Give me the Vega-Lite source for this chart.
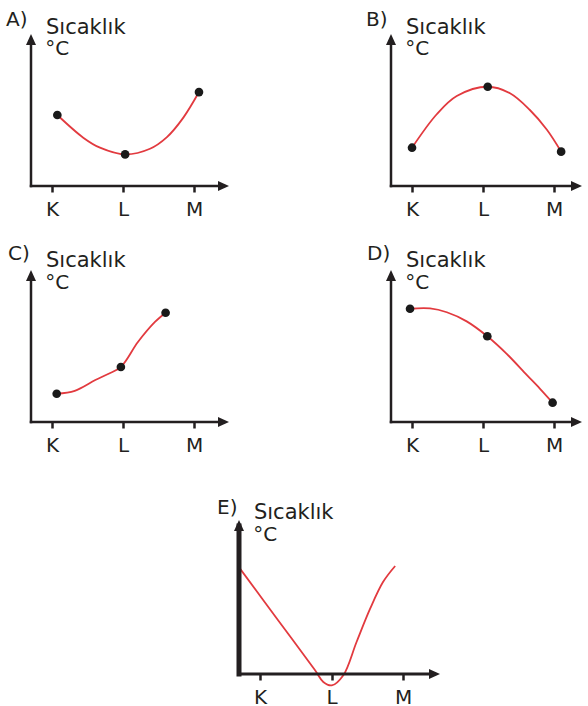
{
  "$schema": "https://vega.github.io/schema/vega-lite/v6.json",
  "background": "white",
  "padding": {"left": 6, "top": 9, "right": 0, "bottom": 0},
  "spacing": 24,
  "config": {
    "view": {"stroke": null},
    "axis": {"domain": false, "grid": false, "ticks": true, "tickSize": 6, "tickWidth": 2.5, "tickColor": "#231f20", "labelFont": "DejaVu Sans", "labelFontSize": 20, "labelColor": "#231f20", "labelPadding": 7, "labelFlush": false, "labelOverlap": false},
    "text": {"font": "DejaVu Sans", "fontSize": 20, "align": "left", "baseline": "alphabetic", "color": "#231f20"}
  },
  "datasets": {
    "curves": [
      {"panel": "A", "x": 1.075, "y": 4.67, "dot": true},
      {"panel": "A", "x": 1.44, "y": 3.18, "dot": false},
      {"panel": "A", "x": 1.676, "y": 2.52, "dot": false},
      {"panel": "A", "x": 2.03, "y": 2.08, "dot": true},
      {"panel": "A", "x": 2.38, "y": 2.45, "dot": false},
      {"panel": "A", "x": 2.615, "y": 3.2, "dot": false},
      {"panel": "A", "x": 2.85, "y": 4.5, "dot": false},
      {"panel": "A", "x": 3.07, "y": 6.18, "dot": true},
      {"panel": "B", "x": 1.0, "y": 2.52, "dot": true},
      {"panel": "B", "x": 1.348, "y": 4.72, "dot": false},
      {"panel": "B", "x": 1.63, "y": 5.92, "dot": false},
      {"panel": "B", "x": 2.066, "y": 6.53, "dot": true},
      {"panel": "B", "x": 2.38, "y": 6.1, "dot": false},
      {"panel": "B", "x": 2.66, "y": 5.0, "dot": false},
      {"panel": "B", "x": 2.9, "y": 3.7, "dot": false},
      {"panel": "B", "x": 3.1, "y": 2.26, "dot": true},
      {"panel": "C", "x": 1.066, "y": 1.86, "dot": true},
      {"panel": "C", "x": 1.32, "y": 2.05, "dot": false},
      {"panel": "C", "x": 1.61, "y": 2.76, "dot": false},
      {"panel": "C", "x": 1.79, "y": 3.16, "dot": false},
      {"panel": "C", "x": 1.97, "y": 3.62, "dot": true},
      {"panel": "C", "x": 2.21, "y": 5.26, "dot": false},
      {"panel": "C", "x": 2.45, "y": 6.58, "dot": false},
      {"panel": "C", "x": 2.6, "y": 7.19, "dot": true},
      {"panel": "D", "x": 0.972, "y": 7.45, "dot": true},
      {"panel": "D", "x": 1.254, "y": 7.47, "dot": false},
      {"panel": "D", "x": 1.49, "y": 7.22, "dot": false},
      {"panel": "D", "x": 1.77, "y": 6.62, "dot": false},
      {"panel": "D", "x": 2.06, "y": 5.64, "dot": true},
      {"panel": "D", "x": 2.33, "y": 4.5, "dot": false},
      {"panel": "D", "x": 2.615, "y": 3.1, "dot": false},
      {"panel": "D", "x": 2.8, "y": 2.2, "dot": false},
      {"panel": "D", "x": 2.98, "y": 1.27, "dot": true},
      {"panel": "E", "x": 0.72, "y": 6.84, "dot": false},
      {"panel": "E", "x": 1.25, "y": 3.51, "dot": false},
      {"panel": "E", "x": 1.77, "y": 0.24, "dot": false},
      {"panel": "E", "x": 1.885, "y": -0.52, "dot": false},
      {"panel": "E", "x": 2.003, "y": -0.74, "dot": false},
      {"panel": "E", "x": 2.165, "y": -0.08, "dot": false},
      {"panel": "E", "x": 2.35, "y": 2.08, "dot": false},
      {"panel": "E", "x": 2.54, "y": 4.24, "dot": false},
      {"panel": "E", "x": 2.72, "y": 5.97, "dot": false},
      {"panel": "E", "x": 2.89, "y": 7.01, "dot": false}
    ]
  },
  "vconcat": [
    {
      "bounds": "flush",
      "spacing": 162,
      "hconcat": [
        {
          "width": 198, "height": 152,
          "resolve": {"axis": {"x": "independent", "y": "independent"}},
          "layer": [
            {"data": {"name": "curves"}, "transform": [{"filter": "datum.panel == 'A'"}],
             "mark": {"type": "line", "color": "#e23a3f", "strokeWidth": 1.8, "interpolate": "catmull-rom"},
             "encoding": {
               "x": {"field": "x", "type": "quantitative", "title": null, "scale": {"domain": [0.704, 3.493], "nice": false, "zero": false}, "axis": {"values": [1, 2, 3], "labelExpr": "datum.value == 1 ? 'K' : datum.value == 2 ? 'L' : 'M'"}},
               "y": {"field": "y", "type": "quantitative", "scale": {"domain": [0, 10], "nice": false, "zero": false}, "axis": null}}},
            {"data": {"values": [{}]}, "mark": {"type": "rule", "color": "#231f20", "strokeWidth": 2.5, "strokeCap": "square"},
             "encoding": {"x": {"datum": 0.704, "type": "quantitative", "axis": null}, "x2": {"datum": 3.41}, "y": {"datum": 0, "type": "quantitative", "axis": null}}},
            {"data": {"values": [{}]}, "mark": {"type": "rule", "color": "#231f20", "strokeWidth": 2.5, "strokeCap": "square"},
             "encoding": {"x": {"datum": 0.704, "type": "quantitative", "axis": null}, "y": {"datum": 0, "type": "quantitative", "axis": null}, "y2": {"datum": 9.6}}},
            {"data": {"values": [{}]}, "mark": {"type": "point", "shape": "M0,0L-2.2,-1L-2.2,1Z", "filled": true, "size": 100, "color": "#231f20", "opacity": 1, "strokeWidth": 0},
             "encoding": {"x": {"datum": 3.493, "type": "quantitative", "axis": null}, "y": {"datum": 0, "type": "quantitative", "axis": null}}},
            {"data": {"values": [{}]}, "mark": {"type": "point", "shape": "M0,0L-1,2.2L1,2.2Z", "filled": true, "size": 100, "color": "#231f20", "opacity": 1, "strokeWidth": 0},
             "encoding": {"x": {"datum": 0.704, "type": "quantitative", "axis": null}, "y": {"datum": 10, "type": "quantitative", "axis": null}}},
            {"data": {"name": "curves"}, "transform": [{"filter": "datum.panel == 'A' && datum.dot"}],
             "mark": {"type": "point", "filled": true, "size": 75, "color": "#1a1a1a", "opacity": 1},
             "encoding": {"x": {"field": "x", "type": "quantitative", "axis": null}, "y": {"field": "y", "type": "quantitative", "axis": null}}},
            {"data": {"values": [{}]}, "mark": {"type": "text", "text": "A)"},
             "encoding": {"x": {"datum": 0.352, "type": "quantitative", "axis": null}, "y": {"datum": 10.53, "type": "quantitative", "axis": null}}},
            {"data": {"values": [{}]}, "mark": {"type": "text", "text": "Sıcaklık", "fontSize": 21},
             "encoding": {"x": {"datum": 0.915, "type": "quantitative", "axis": null}, "y": {"datum": 10.0, "type": "quantitative", "axis": null}}},
            {"data": {"values": [{}]}, "mark": {"type": "text", "text": "°C"},
             "encoding": {"x": {"datum": 0.905, "type": "quantitative", "axis": null}, "y": {"datum": 8.62, "type": "quantitative", "axis": null}}}
          ]
        },
        {
          "width": 191, "height": 152,
          "resolve": {"axis": {"x": "independent", "y": "independent"}},
          "layer": [
            {"data": {"name": "curves"}, "transform": [{"filter": "datum.panel == 'B'"}],
             "mark": {"type": "line", "color": "#e23a3f", "strokeWidth": 1.8, "interpolate": "catmull-rom"},
             "encoding": {
               "x": {"field": "x", "type": "quantitative", "title": null, "scale": {"domain": [0.704, 3.394], "nice": false, "zero": false}, "axis": {"values": [1, 2, 3], "labelExpr": "datum.value == 1 ? 'K' : datum.value == 2 ? 'L' : 'M'"}},
               "y": {"field": "y", "type": "quantitative", "scale": {"domain": [0, 10], "nice": false, "zero": false}, "axis": null}}},
            {"data": {"values": [{}]}, "mark": {"type": "rule", "color": "#231f20", "strokeWidth": 2.5, "strokeCap": "square"},
             "encoding": {"x": {"datum": 0.704, "type": "quantitative", "axis": null}, "x2": {"datum": 3.31}, "y": {"datum": 0, "type": "quantitative", "axis": null}}},
            {"data": {"values": [{}]}, "mark": {"type": "rule", "color": "#231f20", "strokeWidth": 2.5, "strokeCap": "square"},
             "encoding": {"x": {"datum": 0.704, "type": "quantitative", "axis": null}, "y": {"datum": 0, "type": "quantitative", "axis": null}, "y2": {"datum": 9.6}}},
            {"data": {"values": [{}]}, "mark": {"type": "point", "shape": "M0,0L-2.2,-1L-2.2,1Z", "filled": true, "size": 100, "color": "#231f20", "opacity": 1, "strokeWidth": 0},
             "encoding": {"x": {"datum": 3.394, "type": "quantitative", "axis": null}, "y": {"datum": 0, "type": "quantitative", "axis": null}}},
            {"data": {"values": [{}]}, "mark": {"type": "point", "shape": "M0,0L-1,2.2L1,2.2Z", "filled": true, "size": 100, "color": "#231f20", "opacity": 1, "strokeWidth": 0},
             "encoding": {"x": {"datum": 0.704, "type": "quantitative", "axis": null}, "y": {"datum": 10, "type": "quantitative", "axis": null}}},
            {"data": {"name": "curves"}, "transform": [{"filter": "datum.panel == 'B' && datum.dot"}],
             "mark": {"type": "point", "filled": true, "size": 75, "color": "#1a1a1a", "opacity": 1},
             "encoding": {"x": {"field": "x", "type": "quantitative", "axis": null}, "y": {"field": "y", "type": "quantitative", "axis": null}}},
            {"data": {"values": [{}]}, "mark": {"type": "text", "text": "B)"},
             "encoding": {"x": {"datum": 0.352, "type": "quantitative", "axis": null}, "y": {"datum": 10.53, "type": "quantitative", "axis": null}}},
            {"data": {"values": [{}]}, "mark": {"type": "text", "text": "Sıcaklık", "fontSize": 21},
             "encoding": {"x": {"datum": 0.915, "type": "quantitative", "axis": null}, "y": {"datum": 10.0, "type": "quantitative", "axis": null}}},
            {"data": {"values": [{}]}, "mark": {"type": "text", "text": "°C"},
             "encoding": {"x": {"datum": 0.905, "type": "quantitative", "axis": null}, "y": {"datum": 8.62, "type": "quantitative", "axis": null}}}
          ]
        }
      ]
    },
    {
      "bounds": "flush",
      "spacing": 162,
      "hconcat": [
        {
          "width": 198, "height": 152,
          "resolve": {"axis": {"x": "independent", "y": "independent"}},
          "layer": [
            {"data": {"name": "curves"}, "transform": [{"filter": "datum.panel == 'C'"}],
             "mark": {"type": "line", "color": "#e23a3f", "strokeWidth": 1.8, "interpolate": "catmull-rom"},
             "encoding": {
               "x": {"field": "x", "type": "quantitative", "title": null, "scale": {"domain": [0.704, 3.493], "nice": false, "zero": false}, "axis": {"values": [1, 2, 3], "labelExpr": "datum.value == 1 ? 'K' : datum.value == 2 ? 'L' : 'M'"}},
               "y": {"field": "y", "type": "quantitative", "scale": {"domain": [0, 10], "nice": false, "zero": false}, "axis": null}}},
            {"data": {"values": [{}]}, "mark": {"type": "rule", "color": "#231f20", "strokeWidth": 2.5, "strokeCap": "square"},
             "encoding": {"x": {"datum": 0.704, "type": "quantitative", "axis": null}, "x2": {"datum": 3.41}, "y": {"datum": 0, "type": "quantitative", "axis": null}}},
            {"data": {"values": [{}]}, "mark": {"type": "rule", "color": "#231f20", "strokeWidth": 2.5, "strokeCap": "square"},
             "encoding": {"x": {"datum": 0.704, "type": "quantitative", "axis": null}, "y": {"datum": 0, "type": "quantitative", "axis": null}, "y2": {"datum": 9.6}}},
            {"data": {"values": [{}]}, "mark": {"type": "point", "shape": "M0,0L-2.2,-1L-2.2,1Z", "filled": true, "size": 100, "color": "#231f20", "opacity": 1, "strokeWidth": 0},
             "encoding": {"x": {"datum": 3.493, "type": "quantitative", "axis": null}, "y": {"datum": 0, "type": "quantitative", "axis": null}}},
            {"data": {"values": [{}]}, "mark": {"type": "point", "shape": "M0,0L-1,2.2L1,2.2Z", "filled": true, "size": 100, "color": "#231f20", "opacity": 1, "strokeWidth": 0},
             "encoding": {"x": {"datum": 0.704, "type": "quantitative", "axis": null}, "y": {"datum": 10, "type": "quantitative", "axis": null}}},
            {"data": {"name": "curves"}, "transform": [{"filter": "datum.panel == 'C' && datum.dot"}],
             "mark": {"type": "point", "filled": true, "size": 75, "color": "#1a1a1a", "opacity": 1},
             "encoding": {"x": {"field": "x", "type": "quantitative", "axis": null}, "y": {"field": "y", "type": "quantitative", "axis": null}}},
            {"data": {"values": [{}]}, "mark": {"type": "text", "text": "C)"},
             "encoding": {"x": {"datum": 0.38, "type": "quantitative", "axis": null}, "y": {"datum": 10.66, "type": "quantitative", "axis": null}}},
            {"data": {"values": [{}]}, "mark": {"type": "text", "text": "Sıcaklık", "fontSize": 21},
             "encoding": {"x": {"datum": 0.915, "type": "quantitative", "axis": null}, "y": {"datum": 10.2, "type": "quantitative", "axis": null}}},
            {"data": {"values": [{}]}, "mark": {"type": "text", "text": "°C"},
             "encoding": {"x": {"datum": 0.905, "type": "quantitative", "axis": null}, "y": {"datum": 8.75, "type": "quantitative", "axis": null}}}
          ]
        },
        {
          "width": 191, "height": 152,
          "resolve": {"axis": {"x": "independent", "y": "independent"}},
          "layer": [
            {"data": {"name": "curves"}, "transform": [{"filter": "datum.panel == 'D'"}],
             "mark": {"type": "line", "color": "#e23a3f", "strokeWidth": 1.8, "interpolate": "catmull-rom"},
             "encoding": {
               "x": {"field": "x", "type": "quantitative", "title": null, "scale": {"domain": [0.704, 3.394], "nice": false, "zero": false}, "axis": {"values": [1, 2, 3], "labelExpr": "datum.value == 1 ? 'K' : datum.value == 2 ? 'L' : 'M'"}},
               "y": {"field": "y", "type": "quantitative", "scale": {"domain": [0, 10], "nice": false, "zero": false}, "axis": null}}},
            {"data": {"values": [{}]}, "mark": {"type": "rule", "color": "#231f20", "strokeWidth": 2.5, "strokeCap": "square"},
             "encoding": {"x": {"datum": 0.704, "type": "quantitative", "axis": null}, "x2": {"datum": 3.31}, "y": {"datum": 0, "type": "quantitative", "axis": null}}},
            {"data": {"values": [{}]}, "mark": {"type": "rule", "color": "#231f20", "strokeWidth": 2.5, "strokeCap": "square"},
             "encoding": {"x": {"datum": 0.704, "type": "quantitative", "axis": null}, "y": {"datum": 0, "type": "quantitative", "axis": null}, "y2": {"datum": 9.6}}},
            {"data": {"values": [{}]}, "mark": {"type": "point", "shape": "M0,0L-2.2,-1L-2.2,1Z", "filled": true, "size": 100, "color": "#231f20", "opacity": 1, "strokeWidth": 0},
             "encoding": {"x": {"datum": 3.394, "type": "quantitative", "axis": null}, "y": {"datum": 0, "type": "quantitative", "axis": null}}},
            {"data": {"values": [{}]}, "mark": {"type": "point", "shape": "M0,0L-1,2.2L1,2.2Z", "filled": true, "size": 100, "color": "#231f20", "opacity": 1, "strokeWidth": 0},
             "encoding": {"x": {"datum": 0.704, "type": "quantitative", "axis": null}, "y": {"datum": 10, "type": "quantitative", "axis": null}}},
            {"data": {"name": "curves"}, "transform": [{"filter": "datum.panel == 'D' && datum.dot"}],
             "mark": {"type": "point", "filled": true, "size": 75, "color": "#1a1a1a", "opacity": 1},
             "encoding": {"x": {"field": "x", "type": "quantitative", "axis": null}, "y": {"field": "y", "type": "quantitative", "axis": null}}},
            {"data": {"values": [{}]}, "mark": {"type": "text", "text": "D)"},
             "encoding": {"x": {"datum": 0.366, "type": "quantitative", "axis": null}, "y": {"datum": 10.66, "type": "quantitative", "axis": null}}},
            {"data": {"values": [{}]}, "mark": {"type": "text", "text": "Sıcaklık", "fontSize": 21},
             "encoding": {"x": {"datum": 0.915, "type": "quantitative", "axis": null}, "y": {"datum": 10.2, "type": "quantitative", "axis": null}}},
            {"data": {"values": [{}]}, "mark": {"type": "text", "text": "°C"},
             "encoding": {"x": {"datum": 0.905, "type": "quantitative", "axis": null}, "y": {"datum": 8.75, "type": "quantitative", "axis": null}}}
          ]
        }
      ]
    },
    {
      "width": 409, "height": 195,
      "resolve": {"axis": {"x": "independent", "y": "independent"}},
      "layer": [
        {"data": {"name": "curves"}, "transform": [{"filter": "datum.panel == 'E'"}],
         "mark": {"type": "line", "color": "#e23a3f", "strokeWidth": 1.8, "interpolate": "catmull-rom"},
         "encoding": {
           "x": {"field": "x", "type": "quantitative", "title": null, "scale": {"domain": [-2.203, 3.517], "nice": false, "zero": false}, "axis": {"values": [1, 2, 3], "labelExpr": "datum.value == 1 ? 'K' : datum.value == 2 ? 'L' : 'M'"}},
           "y": {"field": "y", "type": "quantitative", "scale": {"domain": [0, 12.66], "nice": false, "zero": false}, "axis": null}}},
        {"data": {"values": [{}]}, "mark": {"type": "rule", "color": "#231f20", "strokeWidth": 3, "strokeCap": "square"},
         "encoding": {"x": {"datum": 0.706, "type": "quantitative", "axis": null}, "x2": {"datum": 3.433}, "y": {"datum": 0, "type": "quantitative", "axis": null}}},
        {"data": {"values": [{}]}, "mark": {"type": "rule", "color": "#231f20", "strokeWidth": 5, "strokeCap": "square"},
         "encoding": {"x": {"datum": 0.706, "type": "quantitative", "axis": null}, "y": {"datum": 0, "type": "quantitative", "axis": null}, "y2": {"datum": 9.61}}},
        {"data": {"values": [{}]}, "mark": {"type": "point", "shape": "M0,0L-2.2,-1L-2.2,1Z", "filled": true, "size": 100, "color": "#231f20", "opacity": 1, "strokeWidth": 0},
         "encoding": {"x": {"datum": 3.517, "type": "quantitative", "axis": null}, "y": {"datum": 0, "type": "quantitative", "axis": null}}},
        {"data": {"values": [{}]}, "mark": {"type": "point", "shape": "M0,0L-1,2.2L1,2.2Z", "filled": true, "size": 100, "color": "#231f20", "opacity": 1, "strokeWidth": 0},
         "encoding": {"x": {"datum": 0.706, "type": "quantitative", "axis": null}, "y": {"datum": 10, "type": "quantitative", "axis": null}}},
        {"data": {"values": [{}]}, "mark": {"type": "text", "text": "E)"},
         "encoding": {"x": {"datum": 0.40, "type": "quantitative", "axis": null}, "y": {"datum": 10.39, "type": "quantitative", "axis": null}}},
        {"data": {"values": [{}]}, "mark": {"type": "text", "text": "Sıcaklık", "fontSize": 21},
         "encoding": {"x": {"datum": 0.915, "type": "quantitative", "axis": null}, "y": {"datum": 10.06, "type": "quantitative", "axis": null}}},
        {"data": {"values": [{}]}, "mark": {"type": "text", "text": "°C"},
         "encoding": {"x": {"datum": 0.905, "type": "quantitative", "axis": null}, "y": {"datum": 8.64, "type": "quantitative", "axis": null}}}
      ]
    }
  ]
}
